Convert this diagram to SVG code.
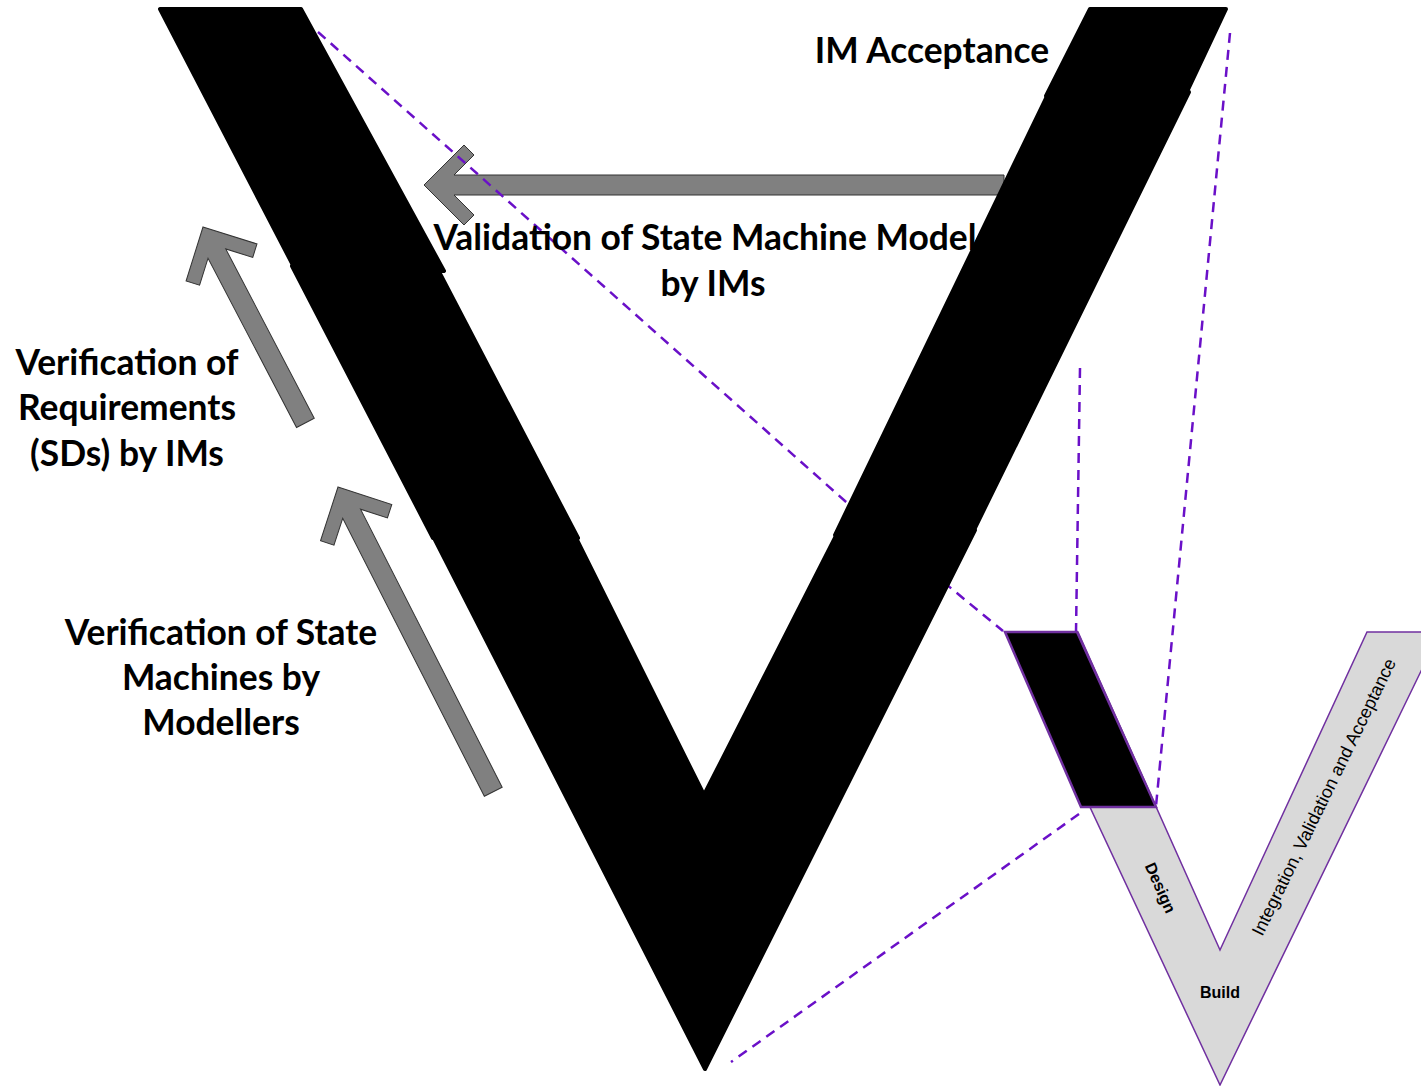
<svg xmlns="http://www.w3.org/2000/svg" width="1421" height="1086" viewBox="0 0 1421 1086">
  <style>
    .band { fill: #000000; stroke: #000000; stroke-width: 4; stroke-linejoin: round; }
    .arrow { fill: #808080; stroke: #333333; stroke-width: 1; stroke-linejoin: miter; }
    .link { fill: none; stroke: #6a10c8; stroke-width: 2.5; stroke-dasharray: 10 7; }
    .label { font-family: Lato, "Open Sans", "Liberation Sans", sans-serif; font-weight: 700; font-size: 35.4px; fill: #000000; text-anchor: middle; }
    .small { font-family: "Liberation Sans", Arial, sans-serif; fill: #000000; text-anchor: middle; }
  </style>

  <rect x="0" y="0" width="1421" height="1086" fill="#ffffff"/>

  <!-- feedback arrows -->
  <g id="arrow-validation">
    <polygon class="arrow" transform="translate(424,185)" points="0,0 40,-40 50,-30 30,-10 580,-10 580,10 30,10 50,30 40,40"/>
  </g>
  <g id="arrow-requirements">
    <polygon class="arrow" transform="translate(203,227) rotate(62.4)" points="0,0 40,-40 50,-30 30,-10 221,-10 221,10 30,10 50,30 40,40"/>
  </g>
  <g id="arrow-state-machines">
    <polygon class="arrow" transform="translate(338,487) rotate(63)" points="0,0 40,-40 50,-30 30,-10 342,-10 342,10 30,10 50,30 40,40"/>
  </g>

  <!-- zoom-out guide lines -->
  <g id="connectors">
    <polyline class="link" points="318,32 845,501 1003,631"/>
    <line class="link" x1="1230" y1="33" x2="1156" y2="806"/>
    <line class="link" x1="1080" y1="368" x2="1076" y2="632"/>
    <line class="link" x1="1079" y1="814" x2="731" y2="1062"/>
  </g>

  <!-- large V built from stacked segments (lower ones tucked under the upper ones) -->
  <g id="big-v">
    <polygon class="band" points="431,532 573,532 704,795 839,530 975,530 705,1069"/>
    <polygon class="band" points="292,266 436,266 578,538 433,538"/>
    <polygon class="band" points="1049,92 1189,92 971,536 835,535"/>
    <polygon class="band" points="160,9 301,9 444,271 296,271"/>
    <polygon class="band" points="1090,9 1226,9 1185,96 1046,96"/>
  </g>

  <!-- labels -->
  <g id="label-im-acceptance">
    <text class="label" x="932" y="63">IM Acceptance</text>
  </g>
  <g id="label-validation">
    <text class="label" x="705" y="250">Validation of State Machine Model</text>
    <text class="label" x="713" y="296">by IMs</text>
  </g>
  <g id="label-verification-requirements">
    <text class="label" x="127" y="375">Verification of</text>
    <text class="label" x="127" y="420">Requirements</text>
    <text class="label" x="127" y="466">(SDs) by IMs</text>
  </g>
  <g id="label-verification-state-machines">
    <text class="label" x="221" y="645">Verification of State</text>
    <text class="label" x="221" y="690">Machines by</text>
    <text class="label" x="221" y="735">Modellers</text>
  </g>

  <!-- small overview V -->
  <g id="small-v">
    <polygon points="1008,632 1078,632 1220,950 1367,632 1440,632 1220,1085" fill="#d9d9d9" stroke="#7030a0" stroke-width="1.5"/>
    <polygon points="1005,632 1077,632 1156,807 1081,807" fill="#000000" stroke="#7030a0" stroke-width="2.5"/>
    <text class="small" font-size="16" font-weight="700" transform="translate(1160,888) rotate(66)" y="5">Design</text>
    <text class="small" font-size="16" font-weight="700" x="1220" y="998">Build</text>
    <text class="small" font-size="18" transform="translate(1324,797) rotate(-64)" y="6">Integration, Validation and Acceptance</text>
  </g>
</svg>
